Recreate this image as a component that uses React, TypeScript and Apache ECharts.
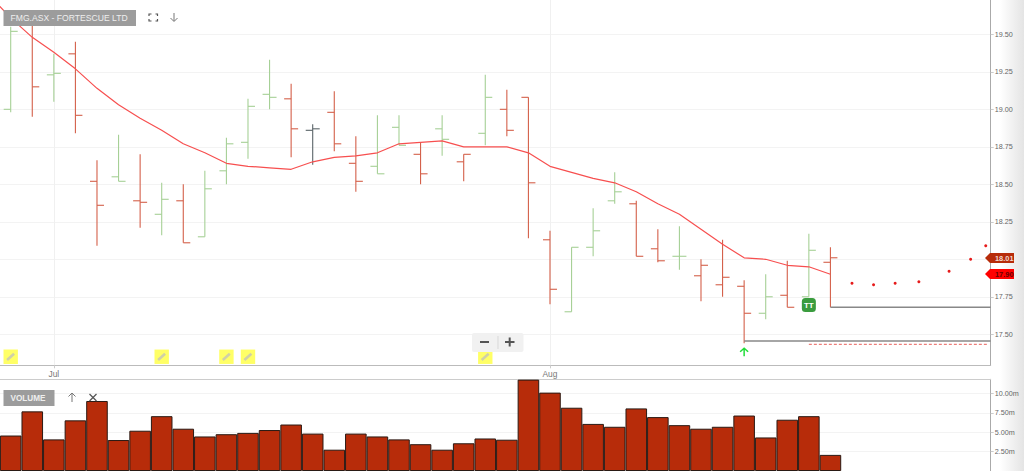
import React, { useEffect, useRef } from "react";
import * as echarts from "echarts";

const priceTicks = [17.5, 17.75, 18, 18.25, 18.5, 18.75, 19, 19.25, 19.5];
const volumeTicks = [2.5, 5, 7.5, 10];
const monthTicks = [2, 25];
const monthNames = ["Jul", "Aug"];

// "r" falling colour, "g" rising colour, "k" neutral
const barTone = ["g","r","g","r","r","g","r","g","r","g","g","g","g","r","k","r","r","g","g","r","g","r","g","r","r","r","g","g","g","r","r","g","r","r","r","g","r","g","r"];
const opens = [19.0,19.56,19.23,19.37,18.52,18.55,18.39,18.30,18.39,18.15,18.59,18.78,19.10,19.07,18.86,18.98,18.64,18.62,18.88,18.70,18.87,18.65,18.84,19.0,19.08,18.13,17.65,18.08,18.39,18.37,18.07,18.02,17.89,17.83,17.82,17.64,17.76,17.75,17.98];
const highs = [19.55,19.62,19.37,19.45,18.66,18.83,18.70,18.51,18.50,18.59,18.81,19.07,19.33,19.17,18.90,19.12,18.82,18.96,18.96,18.78,18.96,18.70,19.23,19.13,19.08,18.19,18.08,18.34,18.58,18.39,18.20,18.22,18.00,18.13,17.86,17.90,17.99,18.17,18.08];
const lows = [18.98,18.95,19.05,18.84,18.09,18.52,18.21,18.16,18.11,18.15,18.50,18.67,19.0,18.68,18.63,18.72,18.45,18.57,18.76,18.50,18.69,18.52,18.76,18.82,18.14,17.70,17.65,18.02,18.37,18.02,17.98,17.93,17.72,17.75,17.44,17.60,17.68,17.75,17.68];
const closes = [19.52,19.15,19.24,18.96,18.36,18.52,18.38,18.40,18.11,18.47,18.77,19.02,19.08,18.87,18.87,18.77,18.52,18.57,18.76,18.57,18.80,18.70,19.08,18.86,18.51,17.80,18.08,18.19,18.45,18.02,17.99,18.02,17.96,17.88,17.64,17.75,17.68,18.06,18.01];

// Moving average, first value belongs to the bar before the visible window
const averageLine = [19.76,19.61,19.48,19.38,19.27,19.14,19.03,18.94,18.86,18.77,18.71,18.64,18.62,18.61,18.60,18.65,18.68,18.69,18.71,18.77,18.78,18.79,18.75,18.75,18.75,18.71,18.62,18.58,18.54,18.51,18.45,18.37,18.30,18.20,18.10,18.01,18.00,17.96,17.95,17.90];

const volumes = [4.58,7.7,4.08,6.54,9.04,4.0,5.2,7.08,5.46,4.46,4.75,4.92,5.29,6.0,4.83,2.75,4.83,4.46,4.08,3.46,2.75,3.58,4.2,4.04,11.8,10.12,8.17,6.08,5.71,8.08,6.96,5.92,5.46,5.71,7.16,4.33,6.62,7.08,2.08];

const forecastSlots = [39,40,41,42.1,43.5,44.5,45.2];
const forecastPrices = [17.84,17.83,17.84,17.85,17.92,18.0,18.09];

const noteSlots = [0,7,10,11,22];
const notePrice = 17.35;
const tradeSlot = 37; const tradePrice = 17.695;
const arrowSlot = 34; const arrowPrice = 17.38;

const supportA = { from: 38, price: 17.68 };
const supportB = { from: 34, price: 17.455 };
const stopLine = { from: 37, to: 45.3, price: 17.433 };

const titleText = "FMG.ASX - FORTESCUE LTD";
const volumeText = "VOLUME";
const lastClose = "18.01";
const lastAverage = "17.90";

const X_MIN = -0.496;
const X_MAX = 45.43;
const tone: Record<string, string> = { r: "#d4604a", g: "#a6d096", k: "#5a6468" };
const FONT = "Liberation Sans";
const labelGrey = "#666";

const arrowUp = "path://M5 10V1M1 5L5 1L9 5";

function App() {
  const ref = useRef<HTMLDivElement>(null);
  useEffect(() => {
    const chart = echarts.init(ref.current!, undefined, { renderer: "svg" });
    const ohlc = opens.map((o, i) => [i, o, highs[i], lows[i], closes[i]]);
    const sharedX = { type: "value", min: X_MIN, max: X_MAX, scale: true };

    const grey = (points: number[][], width = 1.2, color = "#555") => ({
      type: "polyline", z: 30, silent: true, shape: { points },
      style: { stroke: color, fill: null, lineWidth: width },
    });

    const option: any = {
      animation: false,
      backgroundColor: "#fff",
      grid: [
        { left: 0, right: 33.3, top: 0, height: 365.3, containLabel: false },
        { left: -0.7, right: 33.3, top: 379.3, bottom: -3, containLabel: false },
      ],
      xAxis: [
        {
          ...sharedX, gridIndex: 0,
          axisLine: { show: true, onZero: false, lineStyle: { color: "#bbb" } },
          axisTick: { show: true, length: 3, customValues: monthTicks, lineStyle: { color: "#ccc" } },
          axisLabel: {
            show: true, customValues: monthTicks, fontFamily: FONT, fontSize: 8.4, color: "#777", margin: 5,
            formatter: (v: number) => monthNames[monthTicks.indexOf(v)] ?? "",
          },
          splitLine: { show: true, customValues: monthTicks, lineStyle: { color: "#f0f0f0" } },
        },
        {
          ...sharedX, gridIndex: 1, position: "top",
          axisLine: { show: true, onZero: false, lineStyle: { color: "#ccc" } },
          axisTick: { show: false }, axisLabel: { show: false }, splitLine: { show: false },
        },
      ],
      yAxis: [
        {
          type: "value", gridIndex: 0, position: "right", min: 17.293, max: 19.729, scale: true,
          axisLine: { show: true, onZero: false, lineStyle: { color: "#aaa", width: 1 } },
          axisTick: { show: true, length: 3, customValues: priceTicks, lineStyle: { color: "#ccc" } },
          axisLabel: {
            show: true, customValues: priceTicks, fontFamily: FONT, fontSize: 7.2, color: labelGrey, margin: 4,
            formatter: (v: number) => v.toFixed(2),
          },
          splitLine: { show: true, customValues: priceTicks, lineStyle: { color: "#f3f3f3" } },
        },
        {
          type: "value", gridIndex: 1, position: "right", min: 0, max: 11.84,
          axisLine: { show: true, onZero: false, lineStyle: { color: "#aaa", width: 1 } },
          axisTick: { show: true, length: 3, customValues: volumeTicks, lineStyle: { color: "#ccc" } },
          axisLabel: {
            show: true, customValues: volumeTicks, fontFamily: FONT, fontSize: 7.2, color: labelGrey, margin: 4,
            formatter: (v: number) => v.toFixed(2) + "m",
          },
          splitLine: { show: true, customValues: volumeTicks, lineStyle: { color: "#f3f3f3" } },
        },
      ],
      series: [
        {
          type: "custom", xAxisIndex: 0, yAxisIndex: 0, z: 3, data: ohlc,
          encode: { x: 0, y: [1, 2, 3, 4] },
          renderItem: (_p: any, api: any) => {
            const i = api.value(0);
            const [x, yO] = api.coord([i, api.value(1)]);
            const yH = api.coord([i, api.value(2)])[1];
            const yL = api.coord([i, api.value(3)])[1];
            const yC = api.coord([i, api.value(4)])[1];
            const style = { stroke: tone[barTone[i]], lineWidth: 1.1, fill: null };
            return {
              type: "group",
              children: [
                { type: "line", shape: { x1: x, y1: yH, x2: x, y2: yL }, style },
                { type: "line", shape: { x1: x - 7, y1: yO, x2: x, y2: yO }, style },
                { type: "line", shape: { x1: x, y1: yC, x2: x + 7, y2: yC }, style },
              ],
            };
          },
        },
        {
          type: "line", xAxisIndex: 0, yAxisIndex: 0, z: 4, symbol: "none",
          data: averageLine.map((v, i) => [i - 1, v]),
          lineStyle: { color: "#f74f4f", width: 1.2 },
        },
        {
          type: "line", xAxisIndex: 0, yAxisIndex: 0, z: 4, symbol: "none",
          data: [[supportA.from, supportA.price], [X_MAX, supportA.price]],
          lineStyle: { color: "#888", width: 1.5 },
        },
        {
          type: "line", xAxisIndex: 0, yAxisIndex: 0, z: 4, symbol: "none",
          data: [[supportB.from, supportB.price], [X_MAX, supportB.price]],
          lineStyle: { color: "#888", width: 1.5 },
        },
        {
          type: "line", xAxisIndex: 0, yAxisIndex: 0, z: 4, symbol: "none",
          data: [[stopLine.from, stopLine.price], [stopLine.to, stopLine.price]],
          lineStyle: { color: "#e8605a", width: 1, type: [3, 2] },
        },
        {
          type: "scatter", xAxisIndex: 0, yAxisIndex: 0, z: 5, symbolSize: 3,
          data: forecastSlots.map((s, i) => [s, forecastPrices[i]]),
          itemStyle: { color: "#e61a1a", opacity: 1 },
        },
        {
          type: "custom", xAxisIndex: 0, yAxisIndex: 0, z: 6, clip: false,
          data: noteSlots.map((s) => [s, notePrice]),
          encode: { x: 0, y: 1 },
          renderItem: (_p: any, api: any) => {
            const [x, y] = api.coord([api.value(0), api.value(1)]);
            return {
              type: "group",
              children: [
                { type: "rect", shape: { x: x - 7.2, y: y - 7.2, width: 14.4, height: 14.4 }, style: { fill: "#ffff66" } },
                { type: "line", shape: { x1: x - 3.6, y1: y + 3.2, x2: x + 3.4, y2: y - 3 }, style: { stroke: "#d0d0a8", lineWidth: 2.6 } },
              ],
            };
          },
        },
        {
          type: "scatter", xAxisIndex: 0, yAxisIndex: 0, z: 7,
          symbol: "roundRect", symbolSize: 14,
          data: [[tradeSlot, tradePrice]],
          itemStyle: { color: "#3a9c3e", opacity: 1 },
          label: { show: true, position: "inside", formatter: "TT", color: "#fff", fontFamily: FONT, fontSize: 8, fontWeight: "bold" },
        },
        {
          type: "scatter", xAxisIndex: 0, yAxisIndex: 0, z: 7, symbol: arrowUp, symbolSize: 8,
          data: [[arrowSlot, arrowPrice]],
          itemStyle: { color: "none", borderColor: "#22dd3a", borderWidth: 1.5, opacity: 1 },
        },
        {
          type: "bar", xAxisIndex: 1, yAxisIndex: 1, barWidth: 21.57,
          data: volumes.map((v, i) => [i, v]),
          itemStyle: { color: "#b72c0a", borderColor: "#2a1a14", borderWidth: 1 },
        },
      ],
      graphic: [
        {
          type: "rect", z: -1, silent: true, shape: { x: 1000, y: 0, width: 24, height: 471 },
          style: { fill: new echarts.graphic.LinearGradient(0, 0, 1, 0, [
            { offset: 0, color: "#ffffff" }, { offset: 1, color: "#e4e4e4" },
          ]) },
        },
        { type: "rect", z: 20, silent: true, shape: { x: 3.5, y: 10, width: 132.5, height: 16 }, style: { fill: "#9c9c9c" } },
        { type: "text", z: 21, silent: true, x: 10.5, y: 18, style: { text: titleText, fill: "#eee", font: `8.6px ${FONT}`, verticalAlign: "middle" } },
        { type: "rect", z: 20, silent: true, shape: { x: 3.5, y: 390, width: 51, height: 16 }, style: { fill: "#9c9c9c" } },
        { type: "text", z: 21, silent: true, x: 10.5, y: 398, style: { text: volumeText, fill: "#eee", font: `bold 8.2px ${FONT}`, verticalAlign: "middle" } },
        // full screen icon
        grey([[149, 16], [149, 14], [151.5, 14]]), grey([[155.5, 14], [157.5, 14], [157.5, 16]]),
        grey([[149, 19], [149, 21], [151.5, 21]]), grey([[155.5, 21], [157.5, 21], [157.5, 19]]),
        // download arrow
        grey([[174, 13], [174, 21]], 1, "#777"), grey([[170.5, 18], [174, 21.5], [177.5, 18]], 1, "#777"),
        // volume panel icons
        grey([[72, 393], [72, 402]], 1, "#777"), grey([[68.5, 396.5], [72, 393], [75.5, 396.5]], 1, "#777"),
        grey([[89.5, 394], [96.5, 401]], 1.3), grey([[96.5, 394], [89.5, 401]], 1.3),
        // zoom control
        { type: "rect", z: 18, silent: true, shape: { x: 472, y: 333, width: 51.5, height: 19, r: 2 }, style: { fill: "#f1f1f1" } },
        { type: "line", z: 19, silent: true, shape: { x1: 498, y1: 336, x2: 498, y2: 349 }, style: { stroke: "#ddd", lineWidth: 1.2 } },
        { type: "line", z: 19, silent: true, shape: { x1: 480, y1: 342, x2: 489, y2: 342 }, style: { stroke: "#555", lineWidth: 2 } },
        { type: "line", z: 19, silent: true, shape: { x1: 505, y1: 342, x2: 514.5, y2: 342 }, style: { stroke: "#555", lineWidth: 2 } },
        { type: "line", z: 19, silent: true, shape: { x1: 509.7, y1: 337.5, x2: 509.7, y2: 346.5 }, style: { stroke: "#555", lineWidth: 2 } },
        // last value tags
        { type: "polygon", z: 22, silent: true, shape: { points: [[985, 258], [990, 253], [1014, 253], [1014, 263], [990, 263]] }, style: { fill: "#b72c0a" } },
        { type: "text", z: 23, silent: true, x: 995, y: 258, style: { text: lastClose, fill: "#f2d8d0", font: `bold 7.4px ${FONT}`, verticalAlign: "middle" } },
        { type: "polygon", z: 22, silent: true, shape: { points: [[985, 274], [990, 269], [1014, 269], [1014, 279], [990, 279]] }, style: { fill: "#ff0000" } },
        { type: "text", z: 23, silent: true, x: 995, y: 274, style: { text: lastAverage, fill: "#600", font: `bold 7.4px ${FONT}`, verticalAlign: "middle" } },
      ],
    };
    chart.setOption(option);
    return () => chart.dispose();
  }, []);
  return <div ref={ref} style={{ position: "absolute", left: 0, top: 0, width: 1024, height: 471, overflow: "hidden" }} />;
}

export default App;
